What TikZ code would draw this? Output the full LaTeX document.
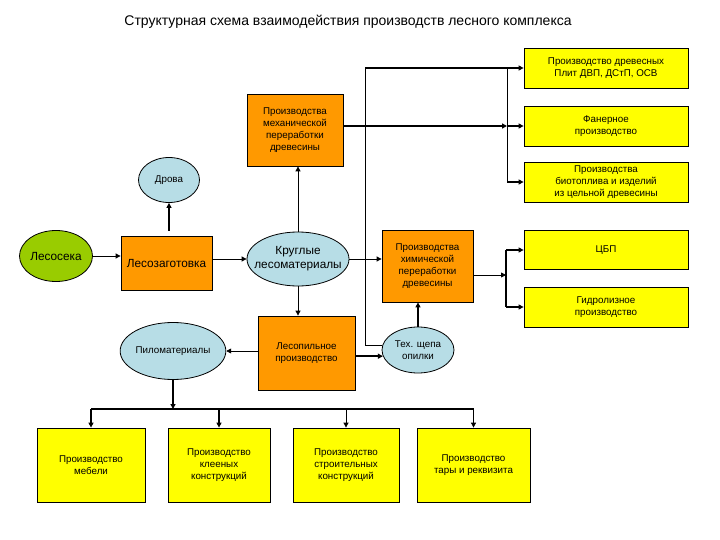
\documentclass[tikz,border=0pt]{standalone}
\usepackage{fontspec}
\setmainfont{Liberation Sans}
\usetikzlibrary{arrows.meta,shapes.geometric}
\definecolor{orng}{HTML}{FF9900}
\definecolor{yel}{HTML}{FFFF00}
\definecolor{lblue}{HTML}{B7DDE6}
\definecolor{grn}{HTML}{99CC00}
\begin{document}
\begin{tikzpicture}[x=1pt,y=-1pt,
  >={Triangle[length=5pt,width=5pt]},
  thn/.style={line width=0.8pt},
  thk/.style={line width=2pt},
  sm/.style={font=\fontsize{9.8}{12.2}\selectfont},
  bg/.style={font=\fontsize{11.8}{14}\selectfont},
  obox/.style={draw,line width=0.8pt,fill=orng,align=center,inner sep=1pt},
  ybox/.style={draw,line width=0.8pt,fill=yel,align=center,inner sep=1pt,sm},
  ell/.style={draw,line width=0.8pt,ellipse,fill=lblue,align=center,inner sep=0pt},
]
\useasboundingbox (0,0) rectangle (720,540);
\node[font=\fontsize{14}{16}\selectfont] (title) at (348,22) {Структурная схема взаимодействия производств лесного комплекса};

\node[ell,fill=grn,bg,minimum width=73pt,minimum height=51pt] (lesoseka) at (56,256) {Лесосека};
\node[obox,bg,minimum width=91pt,minimum height=54pt] (zagot) at (166.5,263) {Лесозаготовка};
\node[ell,sm,minimum width=61pt,minimum height=45pt] (drova) at (169,180) {Дрова};
\node[ell,bg,inner xsep=-9pt,minimum width=102pt,minimum height=54pt] (krugl) at (298,259) {Круглые\\лесоматериалы};
\node[obox,sm,minimum width=96pt,minimum height=72pt] (mech) at (295,130) {Производства\\механической\\переработки\\древесины};
\node[ybox,minimum width=164pt,minimum height=40pt] (plit) at (606,68) {Производство древесных\\Плит ДВП, ДСтП, ОСВ};
\node[ybox,minimum width=164pt,minimum height=40pt] (faner) at (606,126) {Фанерное\\производство};
\node[ybox,minimum width=164pt,minimum height=40pt] (bio) at (606,182) {Производства\\биотоплива и изделий\\из цельной древесины};
\node[obox,sm,minimum width=91pt,minimum height=72pt] (chem) at (427.5,266) {Производства\\химической\\переработки\\древесины};
\node[ybox,minimum width=164pt,minimum height=39pt] (cbp) at (606,250) {ЦБП};
\node[ybox,minimum width=164pt,minimum height=40pt] (gidro) at (606,307) {Гидролизное\\производство};
\node[ell,sm,minimum width=72pt,minimum height=46pt] (tech) at (418,350) {Тех. щепа\\опилки};
\node[obox,sm,minimum width=97pt,minimum height=74pt] (lesopil) at (306.5,353) {Лесопильное\\производство};
\node[ell,sm,minimum width=104pt,minimum height=57pt] (pilo) at (173,351) {Пиломатериалы};
\node[ybox,minimum width=108pt,minimum height=74pt] (mebel) at (91,465) {Производство\\мебели};
\node[ybox,minimum width=102pt,minimum height=74pt] (kleen) at (219,465) {Производство\\клееных\\конструкций};
\node[ybox,minimum width=106pt,minimum height=74pt] (stroit) at (346,465) {Производство\\строительных\\конструкций};
\node[ybox,minimum width=113pt,minimum height=74pt] (tara) at (473.5,465) {Производство\\тары и реквизита};

% coordinates of buses
\coordinate (bt) at (507,68);
\coordinate (bm) at (507,126);
\coordinate (bb) at (507,182);
\coordinate (tl) at (365,68);
\coordinate (ct) at (506,250);
\coordinate (cm) at (506,275);
\coordinate (cb) at (506,307);
\coordinate (pb) at (173,409);
\coordinate (bl) at (91,409);
\coordinate (br) at (473.5,409);
\coordinate (dz) at (169,231);

% left chain
\draw[thn,->] (lesoseka.east) -- (zagot.west |- lesoseka.east);
\draw[thn,->] (zagot.east |- krugl.west) -- (krugl.west);
\draw[thk,->] (dz) -- (drova.south);
\draw[thn,->] (krugl.north) -- (krugl.north |- mech.south);
\draw[thn,->] (krugl.south) -- (krugl.south |- lesopil.north);
\draw[thn,->] (krugl.east) -- (chem.west |- krugl.east);

% mechanical bus
\draw[thk,->] (mech.east |- bm) -- (bm);
\draw[thn] (bt) -- (bb);
\draw[thk,->] (bm) -- (faner.west);
\draw[thk,->] (bb) -- (bio.west);
\draw[thn] (tech.172) -| (tl);
\draw[thk,->] (tl) -- (plit.west);

% chemical bus
\draw[thn,->] (chem.east |- cm) -- (cm);
\draw[thk] (ct) -- (cb);
\draw[thk,->] (ct) -- (cbp.west);
\draw[thk,->] (cb) -- (gidro.west);

% sawmill
\draw[thk,->] (tech.north) -- (tech.north |- chem.south);
\draw[thk,->] (lesopil.east |- tech.190) -- (tech.190);
\draw[thn,->] (lesopil.west |- pilo.east) -- (pilo.east);

% lumber bus
\draw[thk,->] (pilo.south) -- (pb);
\draw[thk] (bl) -- (br);
\draw[thk,->] (bl) -- (mebel.north);
\draw[thk,->] (kleen.north |- bl) -- (kleen.north);
\draw[thn,->] (stroit.north |- bl) -- (stroit.north);
\draw[thn,->] (br) -- (tara.north);
\end{tikzpicture}
\end{document}
